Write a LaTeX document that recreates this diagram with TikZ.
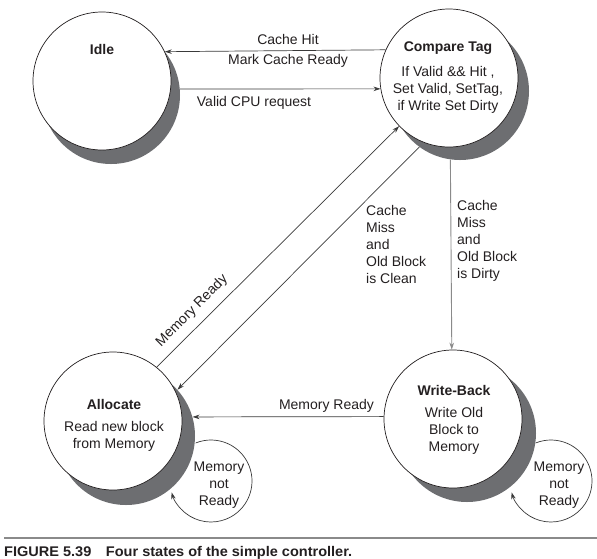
\documentclass[tikz,border=0pt]{standalone}
\usepackage{fontspec}
\usepackage{graphicx}
\setmainfont{Liberation Sans}
\usetikzlibrary{arrows.meta,calc}
\definecolor{ink}{HTML}{231F20}
\definecolor{lineink}{HTML}{3A3A3A}
\definecolor{shade}{HTML}{6D6E71}
\definecolor{rule}{HTML}{8A8A8A}
\tikzset{
  statebox/.style={circle, draw=ink, line width=0.7pt, fill=white, minimum size=138pt, inner sep=0pt},
  shadowbox/.style={circle, fill=shade, minimum size=138pt, inner sep=0pt},
  txt/.style={font=\fontsize{14}{17}\selectfont, text=ink, inner sep=0pt, align=center},
  ttl/.style={font=\fontsize{14}{17}\selectfont\bfseries, text=ink, inner sep=0pt},
  arr/.style={draw=lineink, line width=0.7pt, -{Stealth[length=7pt,width=4.5pt]}},
}
\begin{document}
\begin{tikzpicture}[x=1pt,y=1pt]
\useasboundingbox (0,0) rectangle (597,-558);
% shadows
\node[shadowbox] (idleS)  at (111,-95) {};
\node[shadowbox] (cmpS)   at (460,-91) {};
\node[shadowbox] (allocS) at (126,-436) {};
\node[shadowbox] (wbS)    at (467,-433) {};
% states
\node[statebox] (idle)  at (102,-81) {};
\node[statebox] (cmp)   at (449,-78) {};
\node[statebox] (alloc) at (113,-421) {};
\node[statebox] (wb)    at (453,-419) {};
% state texts
\node[ttl] (idleT) at (102,-49) {Idle};
\node[ttl] (cmpT) at (448,-48) {Compare Tag};
\node[txt] (cmpB) at (448,-90) {If Valid \&\& Hit ,\\Set Valid, SetTag,\\if Write Set Dirty};
\node[ttl] (allocT) at (114,-404) {Allocate};
\node[txt] (allocB) at (114,-436) {Read new block\\from Memory};
\node[ttl] (wbT) at (454,-390) {Write-Back};
\node[txt] (wbB) at (454,-431) {Write Old\\Block to\\Memory};
% edges
\draw[arr] (cmp.156.97) -- (idle.25.77);
\node[txt] (hitL) at (288,-39) {Cache Hit};
\node[txt] (hitL2) at (288,-61) {Mark Cache Ready};
\draw[arr] (idleS.5) -- (cmp.189.17);
\node[txt] (cpuL) at (254,-103) {Valid CPU request};
\draw[arr] (alloc.51.5) -- (cmp.224);
\node[txt, rotate=45] (memL1) at (192,-311) {Memory Ready};
\draw[arr] (cmpS.234) -- (allocS.42.65);
\node[txt, align=left, anchor=west] (cleanL) at (366,-244) {Cache\\Miss\\and\\Old Block\\is Clean};
\draw[arr, draw=rule, line width=0.9pt] (cmpS.262.5) -- (wb.91.66);
\node[txt, align=left, anchor=west] (dirtyL) at (457,-241) {Cache\\Miss\\and\\Old Block\\is Dirty};
\draw[arr] (wb.178.34) -- (allocS.16);
\node[txt] (memL2) at (326.5,-406) {Memory Ready};
% self loops
\coordinate (allocLc) at (211,-481);
\coordinate (allocLs) at ($(allocLc)+(112:41)$);
\draw[arr] (allocLs) arc[start angle=112, end angle=-164, radius=41];
\node[txt] (allocLt) at (219,-485) {Memory\\not\\Ready};
\coordinate (wbLc) at (551,-481);
\coordinate (wbLs) at ($(wbLc)+(112:41)$);
\draw[arr] (wbLs) arc[start angle=112, end angle=-164, radius=41];
\node[txt] (wbLt) at (559,-485) {Memory\\not\\Ready};
% caption
\coordinate (ruleA) at (4,-538);
\coordinate (ruleB) at (597,-538);
\draw[rule, line width=2pt] (ruleA) -- (ruleB);
\node[anchor=base west, inner sep=0pt, text=ink] (cap) at (4,-556)
  {\resizebox{348pt}{\height}{\fontsize{14}{16}\selectfont\bfseries FIGURE 5.39\hspace{14pt}Four states of the simple controller.}};
\end{tikzpicture}
\end{document}
